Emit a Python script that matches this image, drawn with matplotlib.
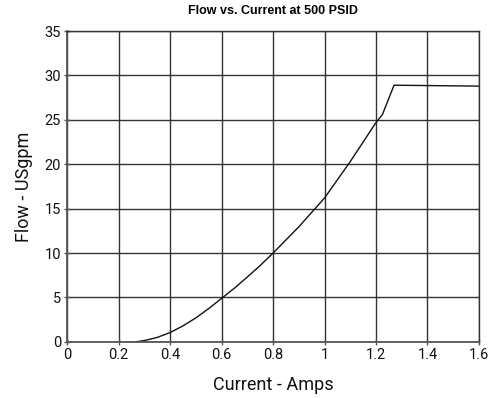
import numpy as np
import matplotlib.pyplot as plt

plt.rcParams['font.family'] = ['Roboto', 'Liberation Sans', 'DejaVu Sans']

# Flow vs. current curve
current = [0.265, 0.3, 0.35, 0.4, 0.45, 0.5, 0.55, 0.6, 0.65, 0.7, 0.75, 0.8, 0.9, 1.0, 1.1, 1.2, 1.225, 1.27, 1.6]
flow = [0.0, 0.15, 0.5, 1.05, 1.8, 2.7, 3.75, 4.9, 6.05, 7.3, 8.6, 10.0, 12.95, 16.2, 20.3, 24.7, 25.6, 28.9, 28.8]

x_ticks = [0, 0.2, 0.4, 0.6, 0.8, 1.0, 1.2, 1.4, 1.6]
x_labels = ['0', '0.2', '0.4', '0.6', '0.8', '1', '1.2', '1.4', '1.6']
y_ticks = [0, 5, 10, 15, 20, 25, 30, 35]

fig = plt.figure(figsize=(5.01, 3.98), dpi=100)
ax = fig.add_axes([0.134, 0.141, 0.822, 0.781])

ax.plot(current, flow, color='#111111', linewidth=1.0)

ax.set_xlim(0, 1.6)
ax.set_ylim(0, 35)
ax.set_xticks(x_ticks)
ax.set_xticklabels(x_labels)
ax.set_yticks(y_ticks)
ax.grid(True, color='#333333', linewidth=1.0)
ax.set_axisbelow(True)

for side in ['left', 'bottom']:
    ax.spines[side].set_color('#555555')
    ax.spines[side].set_linewidth(1.3)
for side in ['top', 'right']:
    ax.spines[side].set_color('#333333')
    ax.spines[side].set_linewidth(1.0)

ax.tick_params(direction='inout', length=5, width=1, color='#555555',
               labelsize=10.5, labelcolor='#111111', pad=2)

ax.set_title('Flow vs. Current at 500 PSID', fontsize=9, fontweight='bold', pad=12,
             family=['Liberation Sans', 'DejaVu Sans'])
ax.set_xlabel('Current - Amps', fontsize=13, color='#111111', labelpad=10)
ax.set_ylabel('Flow - USgpm', fontsize=13, color='#111111', labelpad=8)

fig.savefig('out.png', dpi=100)
